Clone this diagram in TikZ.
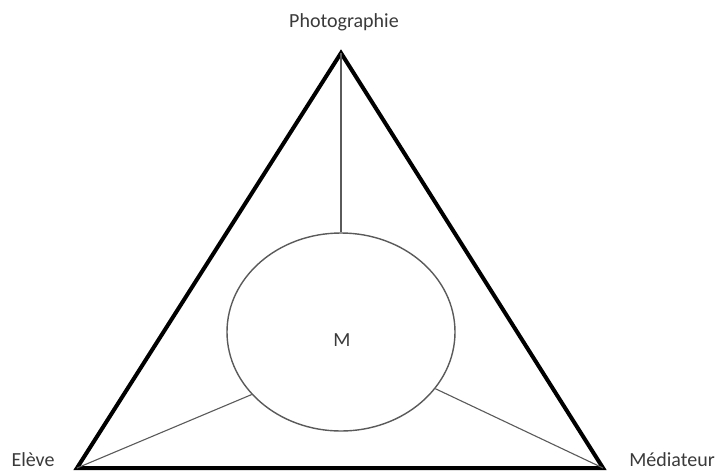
\documentclass[tikz,border=0pt]{standalone}
\usepackage{fontspec}
\setmainfont{Carlito}
\usetikzlibrary{shapes.geometric}
\definecolor{labelgray}{HTML}{3A3A3A}
\definecolor{ellgray}{HTML}{5A5A5A}
\begin{document}
\begin{tikzpicture}[x=1pt,y=-1pt,
  lbl/.style={text=labelgray,font=\fontsize{20}{24}\selectfont,inner sep=0pt},
  tri/.style={line width=4pt,line join=miter,black},
  thin/.style={line width=1.1pt,ellgray},
  mbox/.style={ellipse,draw=ellgray,line width=1.4pt,minimum width=228pt,minimum height=198pt,inner sep=0pt}]
\useasboundingbox[fill=white] (0,0) rectangle (717,472);
\coordinate (P) at (341,53);
\coordinate (E) at (77,468);
\coordinate (D) at (603,468);
\draw[tri] (P) -- (E) -- (D) -- cycle;
\node[mbox] (M) at (341,332) {};
\node[lbl] (Mt) at (342,340) {M};
\draw[thin] (P) -- (M.90);
\draw[thin] (E) -- (M.215);
\draw[thin] (D) -- (M.329);
\node[lbl] (lp) at (344,22) {Photographie};
\node[lbl] (le) at (33,460) {Elève};
\node[lbl] (ld) at (672,460) {Médiateur};
\end{tikzpicture}
\end{document}
